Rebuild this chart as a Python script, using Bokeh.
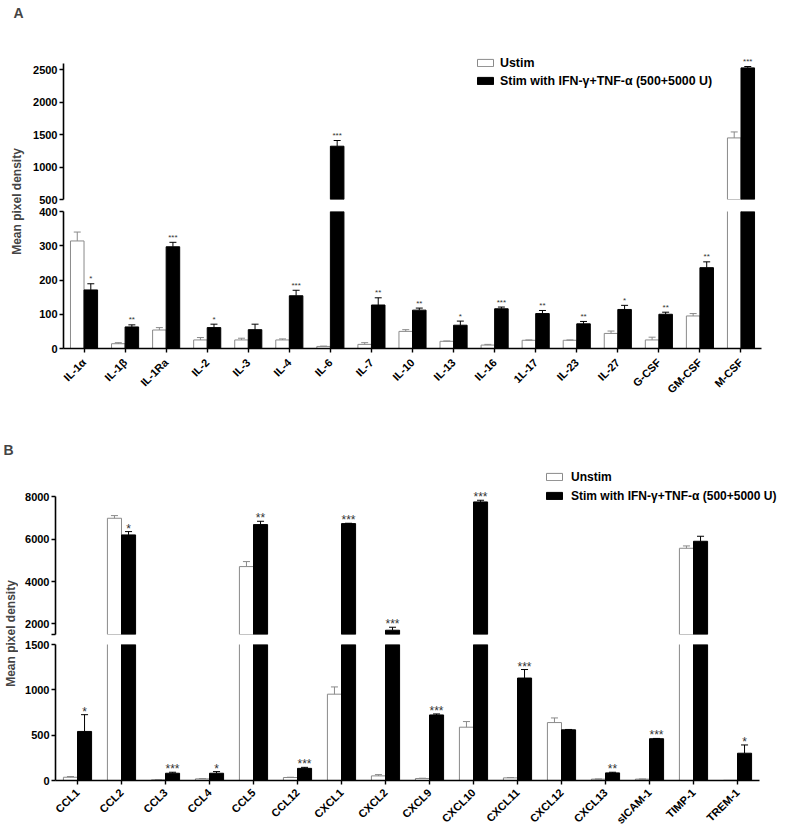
import math
from bokeh.plotting import figure
from bokeh.models import Range1d, FixedTicker, Legend, LegendItem, Label, ColumnDataSource
from bokeh.layouts import row, column
from bokeh.embed import file_html
from bokeh.resources import INLINE
from bokeh.core.properties import value

FONT = "Liberation Sans"

# ---------------- Panel A data ----------------
cats_a = ["IL-1\u03b1", "IL-1\u03b2", "IL-1Ra", "IL-2", "IL-3", "IL-4", "IL-6", "IL-7", "IL-10",
          "IL-13", "IL-16", "1L-17", "IL-23", "IL-27", "G-CSF", "GM-CSF", "M-CSF"]
unstim_a = [314, 14, 54, 25, 25, 25, 6, 12, 50, 21, 10, 24, 24, 44, 25, 95, 1449]
unstim_a_err = [26, 3, 7, 7, 5, 3, 1, 5, 5, 1, 2, 1, 1, 7, 8, 7, 92]
stim_a = [171, 63, 297, 61, 55, 154, 1321, 127, 112, 68, 116, 102, 72, 114, 100, 236, 2528]
stim_a_err = [18, 6, 13, 10, 16, 16, 88, 21, 6, 12, 5, 9, 7, 12, 6, 17, 21]
sig_a = ["*", "**", "***", "*", "", "***", "***", "**", "**", "*", "***", "**", "**", "*", "**", "**", "***"]
legend_a = ["Ustim", "Stim with IFN-\u03b3+TNF-\u03b1 (500+5000 U)"]

# ---------------- Panel B data ----------------
cats_b = ["CCL1", "CCL2", "CCL3", "CCL4", "CCL5", "CCL12", "CXCL1", "CXCL2", "CXCL9", "CXCL10",
          "CXCL11", "CXCL12", "CXCL13", "sICAM-1", "TIMP-1", "TREM-1"]
unstim_b = [36, 6992, 7, 18, 4709, 33, 952, 51, 22, 588, 29, 639, 15, 15, 5574, 2]
unstim_b_err = [8, 126, 2, 4, 236, 3, 80, 14, 3, 62, 4, 51, 2, 2, 111, 0]
stim_b = [541, 6205, 80, 80, 6693, 134, 6740, 1702, 723, 7764, 1130, 559, 84, 461, 5905, 301]
stim_b_err = [185, 157, 11, 18, 157, 11, 16, 141, 11, 79, 94, 4, 7, 3, 237, 91]
sig_b = ["*", "*", "***", "*", "**", "***", "***", "***", "***", "***", "***", "", "**", "***", "", "*"]
legend_b = ["Unstim", "Stim with IFN-\u03b3+TNF-\u03b1 (500+5000 U)"]

# axis segments (broken axes)
a_upper_ticks = [500, 1000, 1500, 2000, 2500]
a_lower_ticks = [0, 100, 200, 300, 400]
b_upper_ticks = [1500, 2000, 4000, 6000, 8000]
b_lower_ticks = [0, 500, 1000, 1500]

GRAY = "#8a8a8a"


def seg_data(un, un_err, st, st_err, sig, bw, cap, lo, hi):
    """Select, for one axis segment [lo, hi), the marks that fall inside it."""
    d = {k: [] for k in ["wb", "bb", "we", "wt", "wr", "br", "st"]}
    for i, (u, ue, s, se, g) in enumerate(zip(un, un_err, st, st_err, sig)):
        xw, xb = i - bw / 2, i + bw / 2
        if u > lo:
            d["wb"].append((xw, u))
            d["we"].append((xw - bw / 2, u))
            d["we"].append((xw + bw / 2, u))
            if u < hi:
                d["wt"].append((xw - bw / 2, xw + bw / 2, u))
        if s > lo:
            d["bb"].append((xb, s))
        if ue > 0 and lo <= u + ue < hi:
            d["wr"].append((xw, u, u + ue))
        if se > 0 and lo <= s + se < hi:
            d["br"].append((xb, s, s + se))
        if g and lo <= s + se < hi:
            d["st"].append((xb, s + se, g))

    def cds(rows, names):
        return ColumnDataSource({n: [r[j] for r in rows] for j, n in enumerate(names)})

    wr = cds(d["wr"], ["x", "y0", "y1"])
    wr.data["c0"] = [x - cap for x in wr.data["x"]]
    wr.data["c1"] = [x + cap for x in wr.data["x"]]
    br = cds(d["br"], ["x", "y0", "y1"])
    br.data["c0"] = [x - cap for x in br.data["x"]]
    br.data["c1"] = [x + cap for x in br.data["x"]]
    return dict(
        wb=cds(d["wb"], ["x", "top"]),
        bb=cds(d["bb"], ["x", "top"]),
        we=cds(d["we"], ["x", "top"]),
        wt=cds(d["wt"], ["x0", "x1", "y"]),
        wr=wr, br=br,
        st=cds(d["st"], ["x", "y", "t"]),
    )


def segment(data, cats, x_range, y0, y1, width, height, mbl, mbr, mbt, mbb,
            show_x, ticks, bounds, bw, star_size, star_off, x_standoff=8, hide_labels=(),
            upper=False):
    p = figure(width=width, height=height, x_range=x_range, y_range=Range1d(y0, y1),
               output_backend="svg", toolbar_location=None,
               x_axis_location="below" if show_x else None,
               min_border_left=mbl, min_border_right=mbr,
               min_border_top=mbt, min_border_bottom=mbb)
    p.outline_line_color = None
    p.xgrid.visible = False
    p.ygrid.visible = False
    p.background_fill_color = "white"
    p.border_fill_color = "white"

    yax = p.yaxis[0]
    yax.ticker = FixedTicker(ticks=ticks)
    yax.bounds = bounds
    yax.axis_line_width = 1.6
    yax.axis_line_color = "black"
    yax.major_tick_out = 4
    yax.major_tick_in = 0
    yax.major_tick_line_width = 1.4
    yax.minor_tick_out = 0
    yax.minor_tick_in = 0
    yax.major_label_standoff = 2
    yax.major_label_text_font = FONT
    yax.major_label_text_font_style = "bold"
    yax.major_label_text_font_size = "11px"
    yax.major_label_text_color = "black"
    if hide_labels:
        yax.major_label_overrides = {t: "" for t in hide_labels}

    if show_x:
        xax = p.xaxis[0]
        xax.ticker = FixedTicker(ticks=list(range(len(cats))))
        xax.bounds = (-0.5, len(cats) - 0.5)
        xax.major_label_overrides = {i: c for i, c in enumerate(cats)}
        xax.major_label_orientation = math.pi / 4
        xax.axis_line_width = 1.6
        xax.axis_line_color = "black"
        xax.major_tick_out = 4
        xax.major_tick_in = 0
        xax.major_tick_line_width = 1.4
        xax.minor_tick_out = 0
        xax.minor_tick_in = 0
        xax.major_label_standoff = x_standoff
        xax.major_label_text_font = FONT
        xax.major_label_text_font_style = "bold"
        xax.major_label_text_font_size = "11px"
        xax.major_label_text_color = "black"

    if upper:
        # upper segment: white bars start at the segment base, outlined
        rw = p.vbar(x="x", top="top", bottom=y0, width=bw, source=data["wb"],
                    fill_color="white", line_color=GRAY, line_width=1)
    else:
        # lower segment: white bars fill, then open outline (sides + top when inside)
        rw = p.vbar(x="x", top="top", bottom=0, width=bw, source=data["wb"],
                    fill_color="white", line_color=None)
        p.segment(x0="x", x1="x", y0=0, y1="top", source=data["we"], line_color=GRAY, line_width=1)
        p.segment(x0="x0", x1="x1", y0="y", y1="y", source=data["wt"], line_color=GRAY, line_width=1)
    # black (stimulated) bars
    rb = p.vbar(x="x", top="top", bottom=0, width=bw, source=data["bb"],
                fill_color="black", line_color="black", line_width=1)
    # error bars (upper only)
    p.segment(x0="x", x1="x", y0="y0", y1="y1", source=data["wr"], line_color=GRAY, line_width=1)
    p.segment(x0="c0", x1="c1", y0="y1", y1="y1", source=data["wr"], line_color=GRAY, line_width=1)
    p.segment(x0="x", x1="x", y0="y0", y1="y1", source=data["br"], line_color="black", line_width=1)
    p.segment(x0="c0", x1="c1", y0="y1", y1="y1", source=data["br"], line_color="black", line_width=1)
    # significance stars
    p.text(x="x", y="y", text="t", source=data["st"], text_align="center",
           text_baseline="alphabetic", y_offset=star_off,
           text_font=value(FONT), text_font_size=star_size, text_color="#333333")
    return p, rw, rb


def add_legend(p, rw, rb, labels, loc, spacing, standoff, size):
    leg = Legend(items=[LegendItem(label=labels[0], renderers=[rw]),
                        LegendItem(label=labels[1], renderers=[rb])],
                 location=loc, orientation="vertical",
                 border_line_color=None, background_fill_alpha=0,
                 padding=0, margin=0, spacing=spacing,
                 glyph_width=20, glyph_height=9, label_height=15, label_standoff=standoff,
                 label_text_font=FONT, label_text_font_style="bold",
                 label_text_font_size=size, label_text_color="black")
    p.add_layout(leg)


def side(width, height, letter, lx, ly, label_x, label_y):
    s = figure(width=width, height=height, x_range=Range1d(0, width), y_range=Range1d(0, height),
               output_backend="svg", toolbar_location=None,
               x_axis_location=None, y_axis_location=None,
               min_border_left=0, min_border_right=0, min_border_top=0, min_border_bottom=0)
    s.outline_line_color = None
    s.xgrid.visible = False
    s.ygrid.visible = False
    s.add_layout(Label(x=lx, y=ly, text=letter, text_font=FONT, text_font_style="bold",
                       text_font_size="14px", text_align="left", text_baseline="top"))
    s.add_layout(Label(x=label_x, y=label_y, text="Mean pixel density", angle=math.pi / 2,
                       text_font=FONT, text_font_style="bold", text_font_size="12px",
                       text_align="center", text_baseline="middle"))
    return s


# ---------------- Panel A ----------------
BW_A = 0.33
PX_CAT_A = 41.06
SIDE_A = 25
WA = 787 - SIDE_A
MBL_A, MBR_A = 38, 3
xr_a = Range1d(-0.5, -0.5 + (WA - MBL_A - MBR_A) / PX_CAT_A)
ppu_a_up = 129.8 / 2000.0
frame_a_up = 199
a_up_end = 500 + frame_a_up / ppu_a_up

data_a_up = seg_data(unstim_a, unstim_a_err, stim_a, stim_a_err, sig_a, BW_A, 0.085, 500, a_up_end)
data_a_low = seg_data(unstim_a, unstim_a_err, stim_a, stim_a_err, sig_a, BW_A, 0.085, 0, 400)
a_up, rwa, rba = segment(data_a_up, cats_a, xr_a, 500, a_up_end, WA, frame_a_up + 6,
                         MBL_A, MBR_A, 0, 6, False, a_upper_ticks, (500, 2600), BW_A, "8px", -5,
                         upper=True)
add_legend(a_up, rwa, rba, legend_a, (412, 111), 3, 5, "12.4px")
a_low, _, _ = segment(data_a_low, cats_a, xr_a, 0, 400, WA, 225,
                      MBL_A, MBR_A, 6, 82, True, a_lower_ticks, (0, 400), BW_A, "8px", -5,
                      x_standoff=8)
side_a = side(SIDE_A, 430, "A", 13, 426, 16.5, 229)

# ---------------- Panel B ----------------
BW_B = 0.32
PX_CAT_B = 44.0
SIDE_B = 18
WB = 787 - SIDE_B
MBL_B, MBR_B = 37, 3
xr_b = Range1d(-0.5, -0.5 + (WB - MBL_B - MBR_B) / PX_CAT_B)
ppu_b_up = 42.33 / 2000.0
frame_b_up = 204
b_up_end = 1500 + frame_b_up / ppu_b_up

data_b_up = seg_data(unstim_b, unstim_b_err, stim_b, stim_b_err, sig_b, BW_B, 0.08, 1500, b_up_end)
data_b_low = seg_data(unstim_b, unstim_b_err, stim_b, stim_b_err, sig_b, BW_B, 0.08, 0, 1500)
b_up, rwb, rbb = segment(data_b_up, cats_b, xr_b, 1500, b_up_end, WB, frame_b_up + 5,
                         MBL_B, MBR_B, 0, 5, False, b_upper_ticks, (1500, 8000), BW_B, "12px", -3,
                         hide_labels=(1500,), upper=True)
add_legend(b_up, rwb, rbb, legend_b, (489, 131), 4, 7, "12px")
b_low, _, _ = segment(data_b_low, cats_b, xr_b, 0, 1500, WB, 194,
                      MBL_B, MBR_B, 5, 51, True, b_lower_ticks, (0, 1500), BW_B, "12px", -3,
                      x_standoff=6)
side_b = side(SIDE_B, 403, "B", 3, 392, 10, 200)

layout = column(row(side_a, column(a_up, a_low)), row(side_b, column(b_up, b_low)))

open("out.html", "w").write(file_html(layout, INLINE))
